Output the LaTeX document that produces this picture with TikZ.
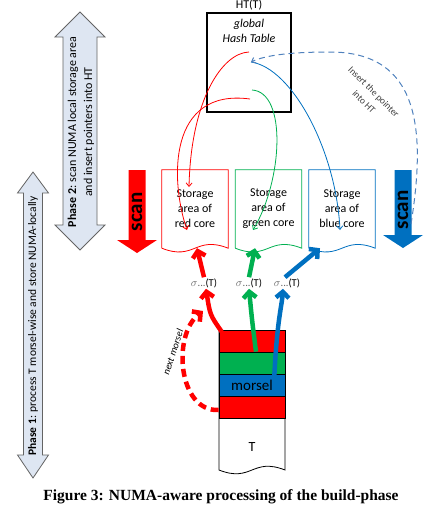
\documentclass[tikz,border=0pt]{standalone}
\usepackage{fontspec}
\setmainfont{Carlito}
\newfontfamily\capfont{Liberation Serif}
\usetikzlibrary{arrows.meta,calc}

\definecolor{numared}{RGB}{255,0,0}
\definecolor{numagreen}{RGB}{0,176,80}
\definecolor{numablue}{RGB}{0,112,192}
\definecolor{dashblue}{RGB}{79,129,189}
\definecolor{phasefill}{RGB}{222,230,242}
\definecolor{phaseline}{RGB}{100,100,100}

\tikzset{
  phase/.style={draw=phaseline, fill=phasefill, line width=0.8pt},
  phaselbl/.style={rotate=90, align=center, font=\fontsize{11.5}{16}\selectfont},
  area/.style={minimum width=66pt, minimum height=78pt, inner sep=0pt, align=center,
    font=\fontsize{12}{15}\selectfont},
  scanlbl/.style={rotate=90, font=\fontsize{21}{21}\selectfont\bfseries, inner sep=0pt},
  sel/.style={font=\fontsize{10.5}{12}\selectfont, inner sep=1pt},
  stripe/.style={minimum width=66pt, minimum height=22pt, inner sep=0pt, draw=black, line width=0.6pt},
  thinarrow/.style={line width=0.8pt, -{Straight Barb[length=3.5pt,width=6pt]}},
  thickarrow/.style={line width=4.5pt, -{Straight Barb[length=6pt,width=13pt]}}
}

\begin{document}
\begin{tikzpicture}[x=1pt,y=-1pt]
  \useasboundingbox (0,0) rectangle (440,520);

  % phase arrows
  \draw[phase] (80,12) -- (105,37) -- (97,37) -- (97,225) -- (105,225) -- (80,250)
    -- (55,225) -- (63,225) -- (63,37) -- (55,37) -- cycle;
  \node[phaselbl, font=\fontsize{12}{16}\selectfont] (phase2) at (81,132) {\textbf{Phase 2}: scan NUMA local storage area\\and insert pointers into HT};
  \draw[phase] (33,172) -- (48.5,193) -- (42.5,193) -- (42.5,455) -- (48.5,455) -- (33,478)
    -- (17.5,455) -- (23.5,455) -- (23.5,193) -- (17.5,193) -- cycle;
  \node[phaselbl] (phase1) at (33,326) {\textbf{Phase 1}: process T morsel-wise and store NUMA-locally};

  % hash table
  \node[draw, line width=1.2pt, minimum width=84pt, minimum height=99pt] (ht) at (249,62.5) {};
  \node[font=\fontsize{12}{12}\selectfont] (httitle) at (249,5) {HT(T)};
  \node[align=center, font=\fontsize{12}{15}\selectfont\itshape] (htlbl) at (249,31) {global\\Hash Table};

  % storage areas
  \foreach \n/\c/\x in {red/numared/195, green/numagreen/268.5, blue/numablue/342}{
    \node[area] (\n area) at (\x,209) {Storage\\area of\\\n{} core};
    \draw[\c, line width=0.8pt] (\n area.south west) -- (\n area.north west) -- (\n area.north east)
      -- (\n area.south east) .. controls +(-33,-13) and +(33,13) .. (\n area.south west);
  }

  % scan arrows
  \foreach \c/\x/\b/\t in {numared/137/240/253, numablue/403/235/248}{
    \fill[\c] (\x-8.5,170) -- (\x+8.5,170) -- (\x+8.5,\b) -- (\x+20,\b) -- (\x,\t)
      -- (\x-20,\b) -- (\x-8.5,\b) -- cycle;
  }
  \node[scanlbl] (scanred) at (137,212) {scan};
  \node[scanlbl] (scanblue) at (403,210) {scan};

  % table T with morsels
  \draw[line width=0.8pt] (219,330) -- (219,470) .. controls +(33,13) and +(-33,-13) .. (285,470) -- (285,330);
  \foreach \c [count=\i] in {numared,numagreen,numablue,numared}{
    \node[stripe, fill=\c] (m\i) at (252,319+22*\i) {};
  }
  \node[font=\fontsize{15}{15}\selectfont] (morsel) at (m3) {morsel};
  \node[font=\fontsize{14}{14}\selectfont] (tbl) at (252,447) {T};

  % selections
  \node[sel] (sred) at (204,283) {{\color{black!60}$\sigma$...}(T)};
  \node[sel] (sgreen) at (249,283) {{\color{black!60}$\sigma$...}(T)};
  \node[sel] (sblue) at (287,283) {{\color{black!60}$\sigma$...}(T)};

  \draw[thickarrow, numared] ([xshift=3pt,yshift=-2pt]m1.north west) .. controls (210,315) .. ([xshift=2pt]sred.south);
  \draw[thickarrow, numagreen] ([xshift=4pt]m2.north) .. controls (252,320) .. (sgreen.south);
  \draw[thickarrow, numablue] ([xshift=-11pt,yshift=-3pt]m3.north east) .. controls (277,320) and (282,305) .. ([xshift=-4pt]sblue.south);
  \draw[thickarrow, numared] (sred.north) -- ([xshift=2pt]redarea.south);
  \draw[thickarrow, numagreen] (sgreen.north) -- ([xshift=-13.5pt]greenarea.south);
  \draw[thickarrow, numablue] ([xshift=-2pt]sblue.north) -- ([xshift=-22pt]bluearea.south);

  % next morsel
  \draw[thickarrow, numared, dash pattern=on 8pt off 5pt] ([yshift=-3pt]m4.west) .. controls (178,412) and (172,335) .. (203,311);
  \node[rotate=72, font=\fontsize{10}{10}\selectfont\itshape] (nextlbl) at (173,352) {next morsel};

  % pointers into the hash table
  \coordinate (h1) at (249,52);
  \coordinate (h2) at (250,99);
  \coordinate (h3) at (252,90);
  \coordinate (h4) at (251,62);
  \coordinate (r1) at (189,187);
  \coordinate (r2) at (187,230);
  \coordinate (g1) at (253,230);
  \coordinate (b1) at (340,230);
  \coordinate (ptr) at (411,224);
  \draw[thinarrow, numared] (h1) .. controls (222,53) and (191,100) .. (r1);
  \draw[thinarrow, numared] (h2) .. controls (168,88) and (170,180) .. (r2);
  \draw[thinarrow, numagreen] (h3) .. controls (287,92) and (283,180) .. (g1);
  \draw[thinarrow, numablue] (h4) .. controls (292,68) and (336,150) .. (b1);
  \draw[thinarrow, dashblue, line width=1pt, dash pattern=on 6pt off 4pt] (ptr) .. controls (426,130) and (420,52) .. (330,52)
    .. controls (292,52) and (266,55) .. (h4);
  \node[rotate=-45, align=center, text=black!75, font=\fontsize{9.5}{14}\selectfont] (insertlbl) at (369,97) {Insert the pointer\\into HT};

  % caption
  \node[font=\capfont\bfseries\fontsize{15.5}{18}\selectfont] (caption) at (221,497) {Figure 3: NUMA-aware processing of the build-phase};
\end{tikzpicture}
\end{document}
